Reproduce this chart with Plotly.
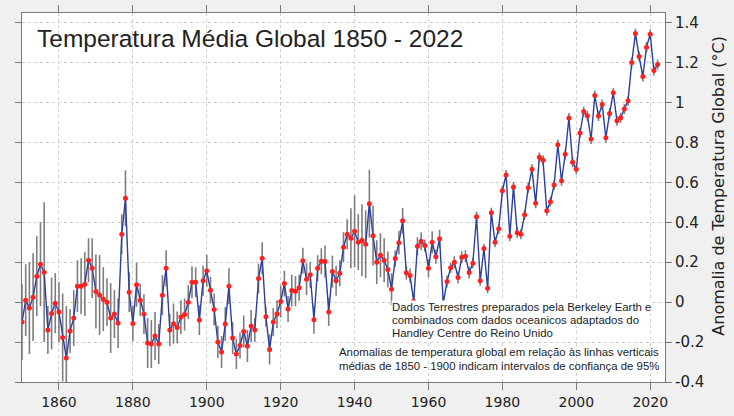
import plotly.graph_objects as go

# Annual global temperature anomaly (°C, relative to 1850-1900) and 95% half-widths
years = list(range(1850, 2023))

anomaly = [
    -0.10, 0.01, -0.03, 0.025, 0.13, 0.19, 0.15, -0.14, -0.057, -0.005,      # 1850s
    -0.05, -0.177, -0.28, -0.145, -0.08, 0.08, 0.08, 0.09, 0.21, 0.17,       # 1860s
    0.053, 0.036, 0.015, 0.0, -0.08, -0.06, -0.105, 0.34, 0.52, 0.05,        # 1870s
    -0.107, 0.087, 0.01, -0.06, -0.205, -0.21, -0.17, -0.21, 0.035, 0.17,    # 1880s
    -0.14, -0.108, -0.127, -0.075, -0.062, 0.0, 0.10, 0.10, -0.09, 0.107,    # 1890s
    0.157, 0.06, -0.037, -0.20, -0.25, -0.11, 0.08, -0.18, -0.26, -0.217,    # 1900s
    -0.147, -0.22, -0.12, -0.14, 0.118, 0.22, -0.073, -0.237, -0.10, -0.06,  # 1910s
    0.003, 0.093, -0.034, 0.058, 0.055, 0.072, 0.207, 0.115, 0.137, -0.088,  # 1920s
    0.17, 0.205, 0.203, -0.049, 0.153, 0.107, 0.145, 0.275, 0.34, 0.32,      # 1930s
    0.355, 0.30, 0.31, 0.29, 0.493, 0.333, 0.20, 0.235, 0.21, 0.163,         # 1940s
    0.065, 0.218, 0.298, 0.407, 0.147, 0.133, 0.005, 0.28, 0.305, 0.283,     # 1950s
    0.17, 0.30, 0.227, 0.318, -0.005, 0.103, 0.172, 0.20, 0.123, 0.225,      # 1960s
    0.23, 0.148, 0.195, 0.428, 0.107, 0.268, 0.07, 0.448, 0.30, 0.367,       # 1970s
    0.558, 0.637, 0.33, 0.577, 0.348, 0.34, 0.437, 0.573, 0.665, 0.495,      # 1980s
    0.725, 0.71, 0.458, 0.503, 0.587, 0.788, 0.608, 0.74, 0.922, 0.70,       # 1990s
    0.665, 0.847, 0.955, 0.933, 0.817, 1.035, 0.932, 0.99, 0.823, 0.945,     # 2000s
    1.048, 0.908, 0.923, 0.967, 1.008, 1.20, 1.345, 1.23, 1.13, 1.277,       # 2010s
    1.342, 1.16, 1.19,                                                       # 2020s
]

uncertainty = [
    0.19, 0.18, 0.23, 0.22, 0.20, 0.21, 0.35, 0.12, 0.18, 0.15,
    0.15, 0.22, 0.26, 0.11, 0.14, 0.13, 0.14, 0.16, 0.11, 0.15,
    0.185, 0.20, 0.16, 0.12, 0.175, 0.12, 0.125, 0.10, 0.14, 0.10,
    0.09, 0.11, 0.08, 0.10, 0.125, 0.12, 0.12, 0.10, 0.10, 0.09,
    0.08, 0.10, 0.08, 0.085, 0.08, 0.085, 0.08, 0.075, 0.075, 0.075,
    0.08, 0.067, 0.08, 0.08, 0.08, 0.085, 0.09, 0.08, 0.075, 0.065,
    0.08, 0.08, 0.08, 0.06, 0.075, 0.08, 0.05, 0.075, 0.07, 0.07,
    0.08, 0.065, 0.065, 0.08, 0.075, 0.065, 0.065, 0.08, 0.065, 0.07,
    0.065, 0.065, 0.08, 0.07, 0.08, 0.075, 0.065, 0.075, 0.075, 0.15,
    0.18, 0.14, 0.18, 0.17, 0.17, 0.15, 0.11, 0.11, 0.11, 0.09,
    0.08, 0.04, 0.06, 0.065, 0.035, 0.035, 0.035, 0.045, 0.045, 0.03,
    0.045, 0.055, 0.035, 0.045, 0.03, 0.03, 0.025, 0.03, 0.03, 0.03,
    0.03, 0.03, 0.025, 0.025, 0.025, 0.025, 0.025, 0.025, 0.025, 0.025,
    0.025, 0.025, 0.025, 0.025, 0.025, 0.025, 0.025, 0.025, 0.025, 0.025,
    0.025, 0.025, 0.025, 0.025, 0.025, 0.025, 0.025, 0.025, 0.025, 0.025,
    0.025, 0.025, 0.025, 0.025, 0.025, 0.025, 0.025, 0.025, 0.025, 0.025,
    0.025, 0.025, 0.025, 0.025, 0.025, 0.025, 0.025, 0.025, 0.025, 0.025,
    0.025, 0.025, 0.025,
]

x_ticks = [1860, 1880, 1900, 1920, 1940, 1960, 1980, 2000, 2020]
y_ticks = [-0.4, -0.2, 0, 0.2, 0.4, 0.6, 0.8, 1, 1.2, 1.4]
y_tick_text = ["-0.4", "-0.2", "0", "0.2", "0.4", "0.6", "0.8", "1", "1.2", "1.4"]

title_text = "Temperatura Média Global 1850 - 2022"
axis_title = "Anomalia de Temperatura Global (°C)"
source_lines = [
    "Dados Terrestres preparados pela Berkeley Earth e",
    "combinados com dados oceanicos adaptados do",
    "Handley Centre do Reino Unido",
]
note_lines = [
    "Anomalias de temperatura global em relação às linhas verticais",
    "médias de 1850 - 1900 indicam intervalos de confiança de 95%",
]

GRAY = "#7a7a7a"
SANS = "Liberation Sans, Arial, sans-serif"
TICKS = "DejaVu Sans, sans-serif"

# plot-area geometry in pixels, used to place the free text
PX_L, PX_R, PX_T, PX_B = 21.7, 665.3, 12.7, 382.3
W, H = PX_R - PX_L, PX_B - PX_T


def px_to_paper(px, py):
    return (px - PX_L) / W, (PX_B - py) / H


fig = go.Figure()

# confidence intervals drawn first, underneath the series line
fig.add_trace(go.Scatter(
    x=years, y=anomaly, mode="markers",
    marker=dict(size=1, opacity=0),
    error_y=dict(type="data", array=uncertainty, color="#7d7d7d",
                 thickness=1.6, width=0),
    hoverinfo="skip", showlegend=False,
))

fig.add_trace(go.Scatter(
    x=years, y=anomaly, mode="lines+markers",
    line=dict(color="#2b3f9e", width=1.4),
    marker=dict(color="#ff2020", size=5),
    showlegend=False,
))

fig.update_layout(
    width=734, height=416, autosize=False,
    margin=dict(l=PX_L, r=734 - PX_R, t=PX_T, b=416 - PX_B, pad=0),
    paper_bgcolor="#f0f0f0",
    plot_bgcolor="#ffffff",
    font=dict(family=SANS, color="#222222"),
)

fig.update_xaxes(
    range=[1850, 2024],
    automargin=False,
    tickvals=x_ticks,
    ticks="outside", ticklen=7, tickcolor=GRAY, tickwidth=1,
    tickfont=dict(family=TICKS, size=14, color="#222222"),
    showline=True, linecolor=GRAY, linewidth=1, mirror="ticks",
    showgrid=True, gridcolor="#cfcfcf", griddash="dot", gridwidth=1,
    zeroline=False,
)

fig.update_yaxes(
    range=[-0.4, 1.448],
    automargin=False,
    side="right",
    tickvals=y_ticks, ticktext=y_tick_text,
    ticks="outside", ticklen=6, tickcolor=GRAY, tickwidth=1,
    tickfont=dict(family=TICKS, size=15, color="#222222"),
    showline=True, linecolor=GRAY, linewidth=1, mirror="ticks",
    showgrid=True, gridcolor="#cfcfcf", griddash="dot", gridwidth=1,
    zeroline=False,
)

tx, ty = px_to_paper(35, 38.5)
ax, ay = px_to_paper(718, 186)
annotations = [
    dict(text=title_text, xref="paper", yref="paper",
         x=tx, y=ty, xanchor="left", yanchor="middle",
         showarrow=False, font=dict(family=SANS, size=24.5, color="#222222")),
    dict(text=axis_title, xref="paper", yref="paper",
         x=ax, y=ay, xanchor="center", yanchor="middle", textangle=-90,
         showarrow=False, font=dict(family=TICKS, size=16, color="#222222")),
]

for i, line in enumerate(source_lines):
    sx, sy = px_to_paper(391.5, 306.7 + 13.2 * i)
    annotations.append(dict(
        text=line, xref="paper", yref="paper",
        x=sx, y=sy, xanchor="left", yanchor="middle", showarrow=False,
        bgcolor="#ffffff", borderpad=0,
        font=dict(family=SANS, size=11.4, color="#222222"),
    ))

for i, line in enumerate(note_lines):
    nx, ny = px_to_paper(338, 352 + 14 * i)
    annotations.append(dict(
        text=line, xref="paper", yref="paper",
        x=nx, y=ny, xanchor="left", yanchor="middle", showarrow=False,
        borderpad=0,
        font=dict(family=SANS, size=11.4, color="#222222"),
    ))

fig.update_layout(annotations=annotations)

fig.write_html("out.html")
